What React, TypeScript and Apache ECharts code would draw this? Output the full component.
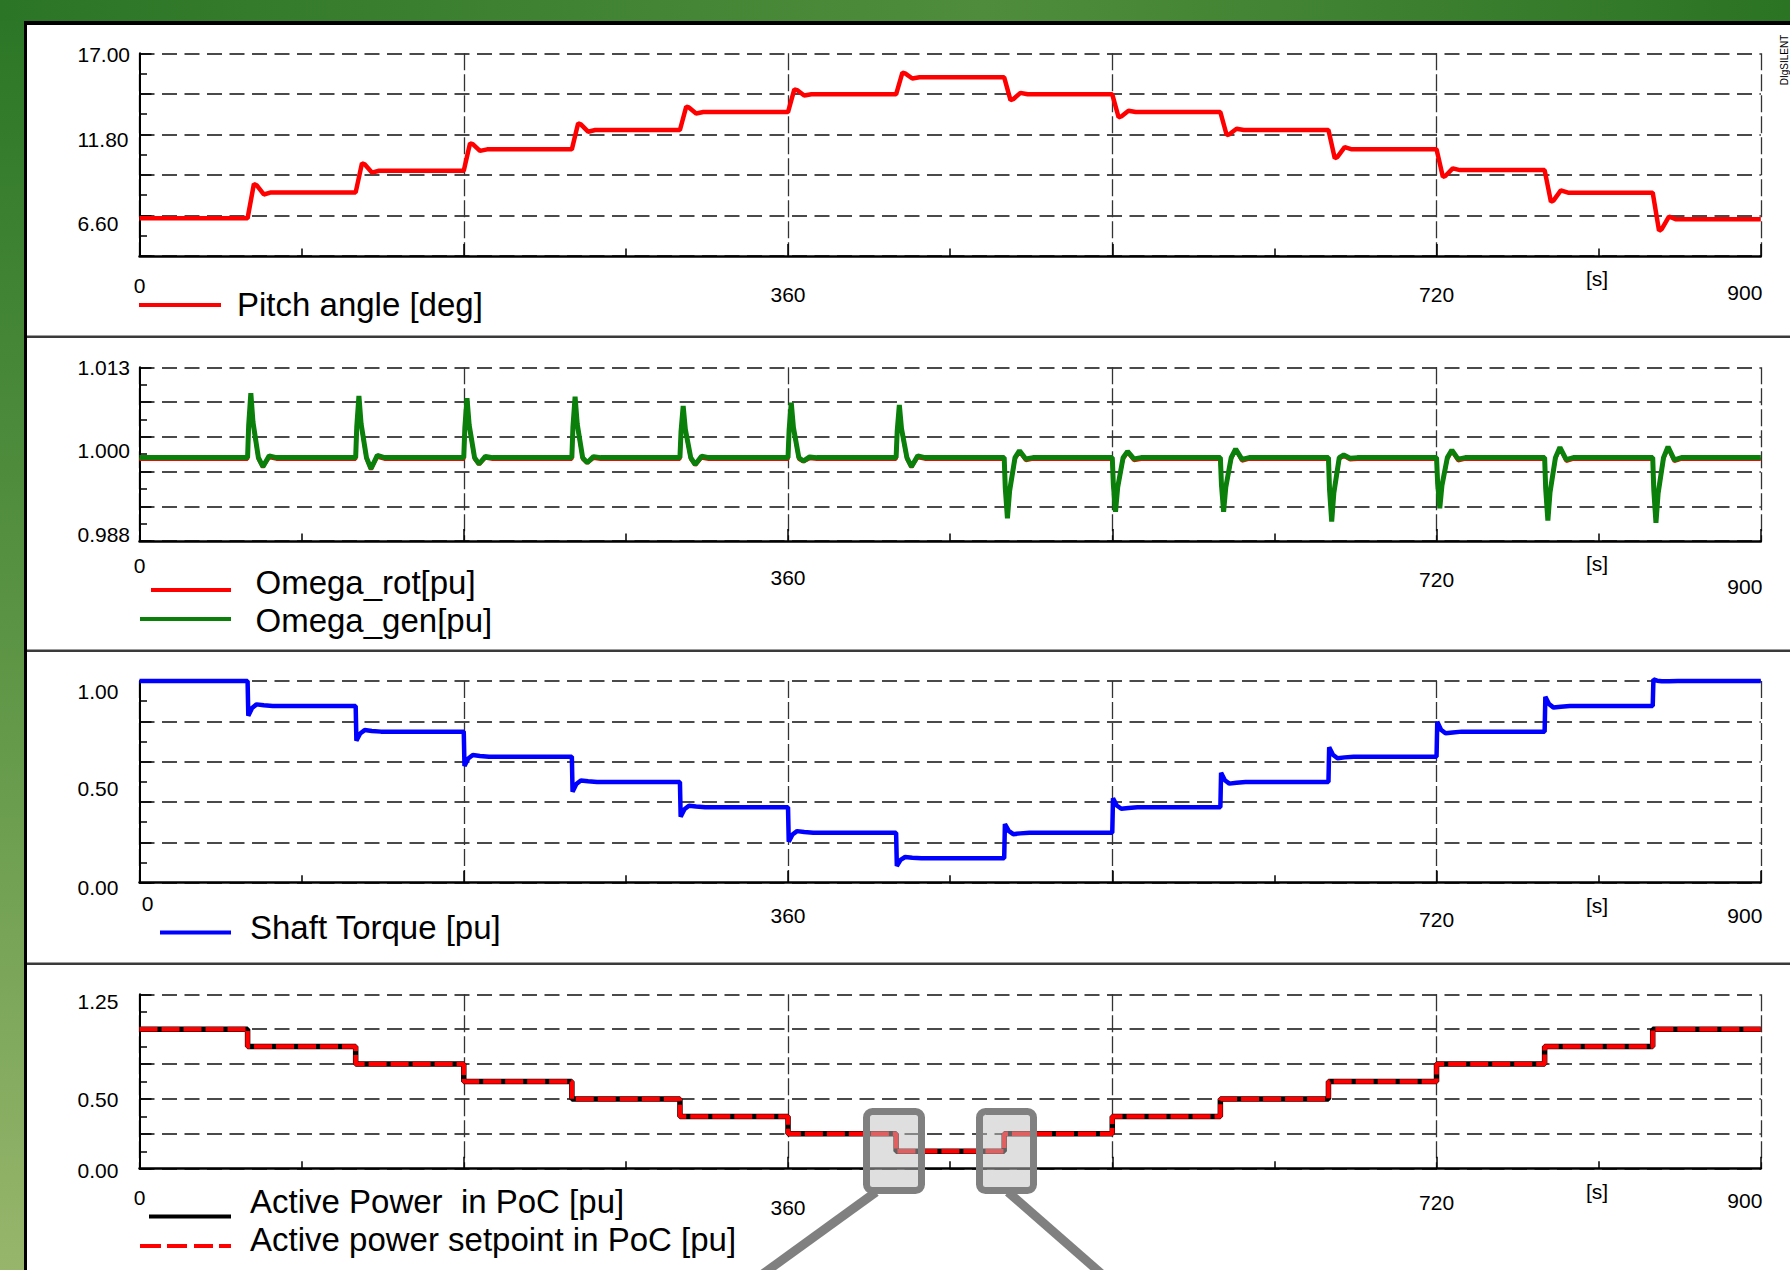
import React, { useEffect, useRef } from "react";
import * as echarts from "echarts";

const W = 1790;
const H = 1270;
const FONT = '"Liberation Sans", Arial, Helvetica, sans-serif';

// ---------------- data ----------------
const T_MAX = 900;
const segmentStarts = [0, 60, 120, 180, 240, 300, 360, 420, 480, 540, 600, 660, 720, 780, 840];
const stepTimes = [60, 120, 180, 240, 300, 360, 420, 480, 540, 600, 660, 720, 780, 840];

// Pitch angle [deg]: settled level of each 60 s segment, and the peak/dip right after each step
const pitchLevels = [6.42, 8.08, 9.47, 10.84, 12.08, 13.23, 14.37, 15.46, 14.37, 13.23, 12.08, 10.84, 9.51, 8.06, 6.35];
const pitchTransients = [8.62, 9.95, 11.23, 12.51, 13.58, 14.69, 15.76, 14.0, 12.9, 11.76, 10.27, 9.08, 7.48, 5.62];

// Omega [pu]: steady value, spike extreme and rebound after each step
const omegaGenBase = 1.0;
const omegaGenSpikes = [1.00926, 1.00887, 1.00854, 1.00878, 1.00743, 1.0079, 1.00757, 0.99127, 0.99222, 0.99222, 0.99078, 0.99271, 0.99093, 0.99063];
const omegaGenRebounds = [0.99869, 0.9984, 0.99908, 0.99927, 0.999, 0.9995, 0.9987, 1.001, 1.0009, 1.00124, 1.00038, 1.00109, 1.00149, 1.00157];
const omegaRotBase = 0.99978;
const omegaRotSpikes = [1.0091, 1.0087, 1.0084, 1.0086, 1.0073, 1.0078, 1.0074, 0.9915, 0.9924, 0.9924, 0.991, 0.9929, 0.9911, 0.9908];
const omegaRotRebounds = [0.9986, 0.9983, 0.999, 0.9992, 0.9989, 0.9994, 0.9986, 1.0008, 1.0007, 1.0011, 1.0002, 1.0009, 1.0013, 1.0014];

// Shaft torque [pu]
const torqueLevels = [1.0, 0.876, 0.749, 0.625, 0.499, 0.374, 0.248, 0.121, 0.248, 0.374, 0.499, 0.625, 0.749, 0.876, 1.0];
const torqueTransients = [0.828, 0.704, 0.579, 0.451, 0.327, 0.203, 0.083, 0.291, 0.418, 0.545, 0.671, 0.798, 0.922, 1.008];

// Active power in PoC [pu]
const powerMeasured = [1.0, 0.875, 0.75, 0.625, 0.5, 0.375, 0.25, 0.125, 0.25, 0.375, 0.5, 0.625, 0.75, 0.875, 1.0];
const powerSetpoint = [1.0, 0.875, 0.75, 0.625, 0.5, 0.375, 0.25, 0.125, 0.25, 0.375, 0.5, 0.625, 0.75, 0.875, 1.0];

// tick labels
const timeTickLabels = [0, 360, 720, 900];
const pitchTickLabels = [6.6, 11.8, 17.0];
const omegaTickLabels = [0.988, 1.0, 1.013];
const torqueTickLabels = [0, 0.5, 1.0];
const powerTickLabels = [0, 0.5, 1.25];

// legend names
const pitchName = "Pitch angle [deg]";
const omegaRotName = "Omega_rot[pu]";
const omegaGenName = "Omega_gen[pu]";
const torqueName = "Shaft Torque [pu]";
const powerName = "Active Power  in PoC [pu]";
const setpointName = "Active power setpoint in PoC [pu]";

// ---------------- trace construction ----------------
type P = [number, number];
// transient template: [dt, k] -> value = level + k * (extreme - level)
const PITCH_SHAPE = [[3.5, 1], [5, 0.85], [9, -0.25], [13, 0]];
const TORQUE_SHAPE = [[0.4, 1], [2.5, 0.2], [5, -0.17], [9, -0.08], [14, 0]];
// [dt, spike weight, rebound weight]
const OMEGA_SHAPE = [[0.6, 0.5, 0], [1.8, 1, 0], [3, 0.55, 0], [6, 0, 0], [8.5, 0, 1], [12, 0, -0.2], [16, 0, 0]];

function stepResponse(levels: number[], extremes: number[], shape: number[][]): P[] {
  const pts: P[] = [[0, levels[0]]];
  stepTimes.forEach((t, i) => {
    const lvl = levels[i + 1];
    pts.push([t, levels[i]]);
    shape.forEach(([dt, k]) => pts.push([t + dt, lvl + k * (extremes[i] - lvl)]));
  });
  pts.push([T_MAX, levels[levels.length - 1]]);
  return pts;
}

function spikeResponse(base: number, spikes: number[], rebounds: number[]): P[] {
  const pts: P[] = [[0, base]];
  stepTimes.forEach((t, i) => {
    pts.push([t, base]);
    OMEGA_SHAPE.forEach(([dt, a, b]) =>
      pts.push([t + dt, base + a * (spikes[i] - base) + b * (rebounds[i] - base)])
    );
  });
  pts.push([T_MAX, base]);
  return pts;
}

function stairs(levels: number[]): P[] {
  const pts: P[] = segmentStarts.map((t, i) => [t, levels[i]] as P);
  pts.push([T_MAX, levels[levels.length - 1]]);
  return pts;
}

// ---------------- layout ----------------
const PLOT_LEFT = 139.5;
const PLOT_RIGHT_X = 1760.8;
const panels = [
  { top: 53.3, height: 202.7 },
  { top: 367.3, height: 173.7 },
  { top: 681, height: 201.7 },
  { top: 994.3, height: 174.4 },
];
// padding of each time label (0, 360, 720, 900) per panel
const xLabelPads = [
  [[37, 0, 0, 0], [55, 0, 0, 0], [55, 0, 0, 0], [51, 32, 0, 0]],
  [[27, 0, 0, 0], [51, 0, 0, 0], [55, 0, 0, 0], [69, 32, 0, 0]],
  [[21, 0, 0, 16], [45, 0, 0, 0], [53, 0, 0, 0], [45, 32, 0, 0]],
  [[37, 0, 0, 0], [57, 0, 0, 0], [47, 0, 0, 0], [43, 32, 0, 0]],
];

function makeXAxis(gridIndex: number) {
  const rich: any = {};
  xLabelPads[gridIndex].forEach((p, i) => {
    rich["t" + i] = { fontFamily: FONT, fontSize: 21, lineHeight: 21, color: "#000", padding: p };
  });
  return {
    type: "value",
    gridIndex,
    min: 0,
    max: T_MAX,
    interval: 180,
    axisLine: { show: true, onZero: false, lineStyle: { color: "#000", width: 2.5 } },
    axisTick: { show: true, inside: true, length: 12, lineStyle: { color: "#000", width: 1.5 } },
    minorTick: { show: true, splitNumber: 2, length: 7.5, lineStyle: { color: "#000", width: 1.5 } },
    splitLine: { show: true, lineStyle: { color: "#333", width: 1.3, type: [17, 4] } },
    minorSplitLine: { show: false },
    axisLabel: {
      show: true,
      margin: 0,
      showMinLabel: true,
      showMaxLabel: true,
      fontFamily: FONT,
      fontSize: 21,
      color: "#000",
      formatter: (v: number) => {
        const i = timeTickLabels.findIndex((x) => Math.abs(x - v) < 1e-6);
        return i < 0 ? "" : `{t${i}|${timeTickLabels[i]}}`;
      },
      rich,
    },
  };
}

function yLabels(values: number[], decimals: number, offsets: number[]) {
  const rich: any = {};
  values.forEach((_, i) => {
    const o = offsets[i];
    rich["y" + i] = {
      fontFamily: FONT,
      fontSize: 21,
      lineHeight: 22,
      color: "#000",
      padding: o >= 0 ? [2 * o, 0, 0, 0] : [0, 0, -2 * o, 0],
    };
  });
  return {
    show: true,
    align: "left",
    margin: 62,
    showMinLabel: true,
    showMaxLabel: true,
    fontFamily: FONT,
    fontSize: 21,
    color: "#000",
    formatter: (v: number) => {
      const i = values.findIndex((x) => Math.abs(x - v) < 1e-7);
      return i < 0 ? "" : `{y${i}|${values[i].toFixed(decimals)}}`;
    },
    rich,
  };
}

function mainY(gridIndex: number, min: number, max: number, interval: number, label: any) {
  return {
    type: "value",
    gridIndex,
    position: "left",
    min,
    max,
    interval,
    axisLine: { show: true, onZero: false, lineStyle: { color: "#000", width: 2 } },
    axisTick: { show: true, inside: true, length: 12, lineStyle: { color: "#000", width: 1.5 } },
    minorTick: { show: true, splitNumber: 2, length: 7.5, lineStyle: { color: "#000", width: 1.5 } },
    splitLine: { show: true, lineStyle: { color: "#4a4a4a", width: 2, type: [15, 7.5] } },
    minorSplitLine: { show: false },
    axisLabel: label ? label : { show: false },
  };
}

function labelY(gridIndex: number, min: number, max: number, interval: number, label: any) {
  return {
    type: "value",
    gridIndex,
    position: "left",
    offset: 0,
    min,
    max,
    interval,
    axisLine: { show: false },
    axisTick: { show: false },
    minorTick: { show: false },
    splitLine: { show: false },
    axisLabel: label,
  };
}

// Legend icons: a 4px bar (or dashes) placed inside a box of w x 36; the two
// zero-length sub-paths pin the box corners so the bar keeps its place.
const ICON_H = 36;
function barIcon(w: number, x0: number, cy: number) {
  return `path://M0 0L0 0Z M${w} ${ICON_H}L${w} ${ICON_H}Z M${x0} ${cy - 2}H${w}V${cy + 2}H${x0}Z`;
}
function dashIcon(w: number, cy: number) {
  const dashes = [[0, 21], [27, 47], [54, 73], [79, 91]];
  const parts = dashes.map(([a, b]) => `M${a} ${cy - 2}H${b}V${cy + 2}H${a}Z`).join(" ");
  return `path://M0 0L0 0Z M${w} ${ICON_H}L${w} ${ICON_H}Z ${parts}`;
}

function legendBlock(names: string[], icons: string[], left: number, top: number, itemWidth: number, textPad: number) {
  return {
    show: true,
    orient: "vertical",
    left,
    top,
    padding: 0,
    itemGap: 2,
    itemWidth,
    itemHeight: ICON_H,
    selectedMode: false,
    data: names.map((n, i) => ({ name: n, icon: icons[i] })),
    itemStyle: { borderWidth: 0 },
    textStyle: {
      fontFamily: FONT,
      fontSize: 33,
      color: "#000",
      lineHeight: 36,
      padding: [0, 0, 0, textPad],
    },
  };
}

const axisBottoms = panels.map((p) => p.top + p.height);

function buildOption() {
  const lineBase = {
    type: "line",
    symbol: "none",
    showSymbol: false,
    silent: true,
    animation: false,
    clip: false,
    emphasis: { disabled: true },
  };

  const graphicElements: any[] = [
    {
      type: "rect",
      z: -10,
      silent: true,
      shape: { x: 0, y: 0, width: W, height: H },
      style: {
        fill: {
          type: "linear", x: 0, y: 0, x2: 0, y2: 1,
          colorStops: [
            { offset: 0, color: "#2a7626" },
            { offset: 0.5, color: "#5b9444" },
            { offset: 1, color: "#97b66c" },
          ],
        },
      },
    },
    {
      type: "rect",
      z: -9,
      silent: true,
      shape: { x: 0, y: 0, width: W, height: 21 },
      style: {
        fill: {
          type: "linear", x: 0, y: 0, x2: 1, y2: 0,
          colorStops: [
            { offset: 0, color: "#2b7526" },
            { offset: 0.55, color: "#4f8d3c" },
            { offset: 1, color: "#2b7424" },
          ],
        },
      },
    },
    { type: "rect", z: -8, silent: true, shape: { x: 24, y: 21, width: W - 24, height: H - 21 }, style: { fill: "#000" } },
    { type: "rect", z: -7, silent: true, shape: { x: 27, y: 25, width: W - 27, height: H - 25 }, style: { fill: "#fff" } },
    { type: "rect", z: -6, silent: true, shape: { x: 27, y: 335.5, width: W - 27, height: 2.5 }, style: { fill: "#3a3a3a" } },
    { type: "rect", z: -6, silent: true, shape: { x: 27, y: 649.5, width: W - 27, height: 2.5 }, style: { fill: "#3a3a3a" } },
    { type: "rect", z: -6, silent: true, shape: { x: 27, y: 962.5, width: W - 27, height: 2.5 }, style: { fill: "#3a3a3a" } },
    {
      type: "text",
      z: 5,
      silent: true,
      x: 1784,
      y: 60,
      rotation: Math.PI / 2,
      style: {
        text: "DIgSILENT",
        fontFamily: FONT,
        fontSize: 10,
        fill: "#000",
        align: "center",
        verticalAlign: "middle",
        textAlign: "center",
        textVerticalAlign: "middle",
      },
    },
    // zoom callouts
    { type: "line", z: 49, silent: true, shape: { x1: 876, y1: 1192, x2: 760, y2: 1276 }, style: { stroke: "#808080", lineWidth: 9 } },
    { type: "line", z: 49, silent: true, shape: { x1: 1008, y1: 1192, x2: 1104, y2: 1276 }, style: { stroke: "#808080", lineWidth: 9 } },
    {
      type: "rect",
      z: 50,
      silent: true,
      shape: { x: 866.5, y: 1111.5, width: 55, height: 79, r: 6 },
      style: { fill: "rgba(192,192,192,0.5)", stroke: "#808080", lineWidth: 7 },
    },
    {
      type: "rect",
      z: 50,
      silent: true,
      shape: { x: 979.5, y: 1111.5, width: 54, height: 79, r: 6 },
      style: { fill: "rgba(192,192,192,0.5)", stroke: "#808080", lineWidth: 7 },
    },
  ];
  axisBottoms.forEach((yb) => {
    graphicElements.push({
      type: "text",
      z: 5,
      silent: true,
      x: 1597,
      y: yb + 22.5,
      style: {
        text: "[s]",
        fontFamily: FONT,
        fontSize: 21,
        fill: "#000",
        align: "center",
        verticalAlign: "middle",
        textAlign: "center",
        textVerticalAlign: "middle",
      },
    });
  });

  return {
    animation: false,
    backgroundColor: "transparent",
    textStyle: { fontFamily: FONT },
    grid: panels.map((p) => ({
      left: PLOT_LEFT,
      right: W - PLOT_RIGHT_X,
      top: p.top,
      height: p.height,
      containLabel: false,
      outerBoundsMode: "none",
      show: false,
    })),
    xAxis: [makeXAxis(0), makeXAxis(1), makeXAxis(2), makeXAxis(3)],
    yAxis: [
      mainY(0, 4.0, 17.0, 2.6, yLabels(pitchTickLabels, 2, [8, 5, 1])),
      mainY(1, 0.988, 1.013, 0.005, null),
      labelY(1, 0.988, 1.013, 0.001, yLabels(omegaTickLabels, 3, [-7, -7, 0])),
      mainY(2, 0, 1.0, 0.2, null),
      labelY(2, 0, 1.0, 0.1, yLabels(torqueTickLabels, 2, [5, 7, 10])),
      mainY(3, 0, 1.25, 0.25, yLabels(powerTickLabels, 2, [1.5, 0.5, 7.5])),
    ],
    legend: [
      legendBlock([pitchName], [barIcon(82, 0, 19)], 139, 286, 82, 11),
      legendBlock([omegaRotName, omegaGenName], [barIcon(91, 11, 26), barIcon(91, 0, 17)], 140, 564, 91, 19.5),
      legendBlock([torqueName], [barIcon(71, 0, 23)], 160, 909.5, 71, 14),
      legendBlock([powerName, setpointName], [barIcon(91, 9, 33.5), dashIcon(91, 25)], 140, 1183, 91, 14),
    ],
    graphic: { elements: graphicElements },
    series: [
      {
        ...lineBase,
        name: pitchName,
        xAxisIndex: 0,
        yAxisIndex: 0,
        color: "#ff0000",
        lineStyle: { color: "#ff0000", width: 4.5 },
        data: stepResponse(pitchLevels, pitchTransients, PITCH_SHAPE),
      },
      {
        ...lineBase,
        name: omegaRotName,
        xAxisIndex: 1,
        yAxisIndex: 1,
        color: "#ff0000",
        lineStyle: { color: "#ff0000", width: 3.5 },
        data: spikeResponse(omegaRotBase, omegaRotSpikes, omegaRotRebounds),
      },
      {
        ...lineBase,
        name: omegaGenName,
        xAxisIndex: 1,
        yAxisIndex: 1,
        color: "#0a7f0a",
        lineStyle: { color: "#0a7f0a", width: 5 },
        data: spikeResponse(omegaGenBase, omegaGenSpikes, omegaGenRebounds),
      },
      {
        ...lineBase,
        name: torqueName,
        xAxisIndex: 2,
        yAxisIndex: 3,
        color: "#0000ff",
        lineStyle: { color: "#0000ff", width: 4.5 },
        data: stepResponse(torqueLevels, torqueTransients, TORQUE_SHAPE),
      },
      {
        ...lineBase,
        name: powerName,
        xAxisIndex: 3,
        yAxisIndex: 5,
        step: "end",
        color: "#000000",
        lineStyle: { color: "#000000", width: 5.5 },
        data: stairs(powerMeasured),
      },
      {
        ...lineBase,
        name: setpointName,
        xAxisIndex: 3,
        yAxisIndex: 5,
        step: "end",
        color: "#ff0000",
        lineStyle: { color: "#ff0000", width: 4.5, type: [18, 4] },
        data: stairs(powerSetpoint),
      },
    ],
  };
}

export default function App() {
  const ref = useRef<HTMLDivElement>(null);
  useEffect(() => {
    document.body.style.margin = "0";
    const chart = echarts.init(ref.current as HTMLDivElement, null, { renderer: "svg", width: W, height: H });
    chart.setOption(buildOption() as any);
    return () => chart.dispose();
  }, []);
  return <div ref={ref} style={{ position: "absolute", left: 0, top: 0, width: W, height: H }} />;
}
